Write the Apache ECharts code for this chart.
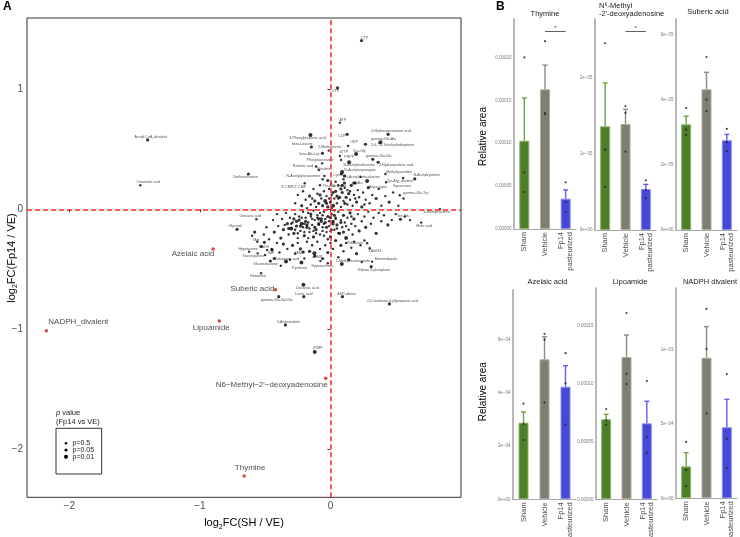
<!DOCTYPE html>
<html><head><meta charset="utf-8">
<script src="https://cdn.jsdelivr.net/npm/echarts@6/dist/echarts.min.js"></script>
<style>html,body{margin:0;padding:0;background:#fff}#c{width:740px;height:537px}</style>
</head><body><div id="c"></div><script>
// ---------- Panel A data: [name, log2FC(SH/VE), log2FC(Fp14/VE)] ----------
const highlighted = [
  ['NADPH_divalent', -2.176, -1.012],
  ['Azelaic acid', -0.899, -0.331],
  ['Suberic acid', -0.421, -0.670],
  ['Lipoamide', -0.851, -0.931],
  ['N6\u2212Methyl\u22122\'\u2212deoxyadenosine', -0.036, -1.408],
  ['Thymine', -0.661, -2.222]
];
// [name, x, y, p-class] p-class: 1 = p 0.5, 2 = p 0.05, 3 = p 0.01
const labeledPoints = [
  ['CTP',0.238,1.406,2],['UTP',0.054,1.011,2],['ATP',0.072,0.722,1],['CDP',0.128,0.625,2],
  ['Acetyl CoA_divalent',-1.400,0.578,2],['Citramalic acid',-1.456,0.200,1],['Diethanolamine',-0.628,0.294,2],
  ['5-Hydroxypentanoic acid',0.442,0.625,2],['gamma-Glu-Ala',0.383,0.558,3],['5,6,7,8-Tetrahydrobiopterin',0.268,0.542,2],
  ['3-Phenylpropionic acid',-0.153,0.619,3],['beta-Leucine',-0.146,0.519,2],['2-Methylserine',-0.013,0.489,1],
  ['UDP',0.135,0.528,1],['Cys-Gly',0.197,0.461,3],['dTTP',0.072,0.444,1],['PRPP',0.082,0.411,1],
  ['beta-Ala-Lys',-0.061,0.467,2],['gamma-Glu-Glu',0.324,0.417,2],['Phosphocreatine',-0.064,0.383,1],
  ['N-Acetylmethionine',0.143,0.392,3],['2-Hydroxyvaleric acid',0.365,0.392,2],['Retinoic acid',-0.110,0.356,1],
  ['Nicotine',-0.089,0.328,1],['N-Acetylasparagine',0.089,0.310,3],['Methylguanidine',0.421,0.294,1],
  ['N-Acetylcysteine',0.646,0.253,2],['Tyr-Arg_divalent',0.557,0.261,1],['N-Acetylglucosamine',-0.046,0.278,1],
  ['Cys',0.084,0.294,2],['N-Acetyl-beta-alanine',0.107,0.278,2],['Ala',0.179,0.219,2],['Asparagine',0.281,0.236,3],
  ['Kynurenine',0.427,0.225,1],['Thr-Asp',0.005,0.211,1],['Guanine',0.107,0.219,2],['3\'-CMP/2\'-CMP',-0.197,0.217,1],
  ['gamma-Glu-Trp',0.531,0.117,1],['S-Methylcysteine',0.838,0.000,1],['Ser-Glu',0.536,-0.083,2],['Malic acid',0.695,-0.111,1],
  ['Urocanic acid',-0.567,-0.083,1],['Glycerol',-0.715,-0.167,2],['Met',-0.506,-0.275,2],['NADH',-0.485,-0.339,1],
  ['Hypotaurine',-0.623,-0.353,1],['Taurocyamine',-0.557,-0.367,1],['IMP',-0.447,-0.339,2],['Pelargonic acid',-0.340,-0.436,3],
  ['Gluconolactone',-0.460,-0.431,2],['dAMP',-0.209,-0.356,2],['dGMP',-0.123,-0.367,3],['Pyridoxal',-0.222,-0.444,3],
  ['Hypoxanthine',-0.077,-0.431,1],['Histamine',-0.531,-0.533,1],['Riboflavin',0.281,-0.283,1],['XA0033',0.301,-0.325,1],
  ['1-Methylnicotinamide',0.087,-0.456,3],['Metronidazole',0.319,-0.436,1],['Ribose 5-phosphate',0.312,-0.478,2],
  ['Decanoic acid',-0.207,-0.628,3],['Lauric acid',-0.204,-0.728,2],['gamma-Glu-Val-Glu',-0.396,-0.728,2],
  ['ADP-ribose',0.092,-0.728,2],['2-(Creatinine-3-yl)propionic acid',0.452,-0.789,2],['5-Aminoindole',-0.345,-0.964,2],
  ['dTMP',-0.120,-1.190,3]
];
// unlabeled metabolites [x, y, p-class]
const cloudPoints = [
[-0.27,0.05,1],[-0.25,0.12,1],[-0.22,0.03,2],[-0.21,0.15,1],[-0.19,0.08,1],[-0.18,0.01,1],[-0.16,0.11,2],[-0.15,0.04,1],[-0.13,0.17,1],[-0.12,0.07,2],[-0.11,0.02,1],[-0.1,0.13,1],[-0.09,0.05,2],[-0.08,0.2,1],[-0.07,0.09,1],[-0.06,0.03,2],[-0.05,0.15,1],[-0.04,0.07,3],[-0.03,0.11,1],[-0.02,0.02,2],[-0.01,0.17,1],[0.0,0.06,2],[0.01,0.12,1],[0.02,0.03,3],[0.03,0.09,1],[0.04,0.15,2],[0.05,0.05,1],[0.06,0.2,1],[0.07,0.1,2],[0.08,0.02,1],[0.09,0.14,2],[0.1,0.07,1],[0.11,0.18,1],[0.12,0.1,2],[0.13,0.04,1],[0.14,0.13,2],[0.15,0.08,1],[0.16,0.2,2],[0.17,0.03,1],[0.18,0.12,1],[0.2,0.06,2],[0.21,0.16,1],[0.22,0.1,1],[0.24,0.02,2],[0.25,0.14,1],[0.27,0.08,1],[0.29,0.18,2],[0.3,0.05,1],[0.32,0.12,1],[0.35,0.09,2],[0.37,0.17,1],[0.39,0.03,1],[0.42,0.11,1],[0.45,0.06,2],[0.48,0.14,1],[0.52,0.03,1],[0.56,0.09,1],[-0.02,0.24,2],[0.04,0.23,1],[0.1,0.25,1],[0.19,0.22,2],[0.23,0.27,1],[-0.06,0.25,1],[0.01,0.01,1],[0.05,0.11,2],[0.13,0.16,1],[-0.14,0.09,1],[0.08,0.17,2],[0.26,0.04,1],[-0.03,0.05,2],
[0.02,0.14,2],[0.06,0.09,1],[0.11,0.05,2],[-0.01,0.09,1],[0.15,0.15,1],[0.09,0.2,2],[0.19,0.09,1],[-0.08,0.12,2],
[-0.44,-0.09,1],[-0.43,-0.19,2],[-0.41,-0.04,1],[-0.4,-0.14,1],[-0.38,-0.24,2],[-0.37,-0.08,1],[-0.36,-0.17,2],[-0.34,-0.03,1],[-0.33,-0.12,2],[-0.32,-0.21,1],[-0.31,-0.07,1],[-0.3,-0.16,3],[-0.29,-0.11,1],[-0.28,-0.2,2],[-0.27,-0.04,1],[-0.26,-0.14,2],[-0.25,-0.24,1],[-0.24,-0.09,2],[-0.23,-0.18,1],[-0.22,-0.12,3],[-0.21,-0.02,1],[-0.2,-0.22,2],[-0.19,-0.07,1],[-0.18,-0.15,2],[-0.17,-0.11,1],[-0.16,-0.19,1],[-0.15,-0.04,2],[-0.14,-0.13,1],[-0.13,-0.23,2],[-0.12,-0.09,1],[-0.11,-0.17,2],[-0.1,-0.05,1],[-0.09,-0.12,2],[-0.08,-0.21,1],[-0.07,-0.08,2],[-0.06,-0.15,1],[-0.05,-0.02,1],[-0.04,-0.11,2],[-0.03,-0.19,1],[-0.02,-0.06,2],[-0.01,-0.14,1],[0.0,-0.23,2],[0.01,-0.04,1],[0.02,-0.1,2],[0.03,-0.17,1],[0.04,-0.07,1],[0.05,-0.13,2],[0.06,-0.02,1],[0.07,-0.2,2],[0.08,-0.09,1],[0.09,-0.15,1],[0.1,-0.05,2],[0.11,-0.11,1],[0.12,-0.24,3],[0.13,-0.07,1],[0.14,-0.17,1],[0.15,-0.03,2],[0.16,-0.12,1],[0.17,-0.21,1],[0.18,-0.08,2],[0.19,-0.14,1],[0.21,-0.04,1],[0.22,-0.18,2],[0.24,-0.1,1],[0.26,-0.06,1],[0.27,-0.15,2],[0.29,-0.02,1],[0.31,-0.12,1],[0.33,-0.07,1],[0.35,-0.2,2],[0.37,-0.03,1],[0.39,-0.1,1],[0.41,-0.05,1],[0.44,-0.13,2],[0.47,-0.09,1],[0.5,-0.04,1],[0.57,-0.06,1],[0.61,-0.09,1],
[-0.3,-0.12,1],[-0.26,-0.1,2],[-0.24,-0.06,1],[-0.21,-0.15,1],[-0.19,-0.1,2],[-0.16,-0.16,1],[-0.14,-0.08,1],[-0.12,-0.15,2],[-0.11,-0.2,1],[-0.09,-0.13,1],[-0.07,-0.1,2],[-0.06,-0.18,1],[-0.04,-0.08,1],[-0.03,-0.15,2],[-0.01,-0.1,1],[0.01,-0.17,1],[0.02,-0.12,2],[0.04,-0.08,1],[0.06,-0.2,1],[0.08,-0.11,2],[-0.2,-0.19,1],[-0.23,-0.14,2],[-0.15,-0.06,1],[-0.05,-0.22,1],[0.0,-0.07,2],[-0.08,-0.03,1],[-0.13,-0.01,1],[0.03,-0.01,1],[-0.18,-0.13,2],[-0.1,-0.07,1],[-0.27,-0.17,1],[-0.35,-0.13,1],[-0.02,-0.25,1],[0.1,-0.19,2],[-0.17,-0.24,1],
[-0.28,-0.08,2],[-0.22,-0.07,1],[-0.17,-0.03,1],[-0.13,-0.18,1],[-0.09,-0.08,2],[-0.05,-0.12,1],[0.0,-0.18,1],[0.03,-0.05,2],[0.05,-0.16,1],[-0.2,-0.12,1],[-0.25,-0.2,1],[-0.32,-0.16,2],[0.12,-0.14,1],[0.16,-0.06,1],[-0.06,-0.05,1],
[-0.56,-0.27,1],[-0.53,-0.31,2],[-0.5,-0.38,1],[-0.47,-0.25,1],[-0.45,-0.33,1],[-0.43,-0.41,2],[-0.41,-0.28,1],[-0.39,-0.36,1],[-0.36,-0.29,2],[-0.33,-0.33,1],[-0.31,-0.42,1],[-0.29,-0.3,2],[-0.27,-0.37,1],[-0.25,-0.28,1],[-0.23,-0.33,2],[-0.2,-0.41,1],[-0.18,-0.27,1],[-0.16,-0.35,2],[-0.14,-0.3,1],[-0.12,-0.39,2],[-0.1,-0.27,1],[-0.08,-0.33,1],[-0.06,-0.41,2],[-0.04,-0.3,1],[-0.02,-0.36,2],[0.0,-0.28,1],[0.02,-0.33,1],[0.04,-0.26,2],[0.06,-0.4,1],[0.08,-0.3,2],[0.1,-0.35,1],[0.12,-0.28,1],[0.14,-0.42,2],[0.16,-0.32,1],[0.18,-0.27,1],[0.2,-0.37,2],[0.23,-0.3,1],[0.26,-0.26,1],[-0.6,-0.22,1],[-0.58,-0.19,2],[-0.49,-0.15,1],[-0.51,-0.21,1],[-0.02,-0.45,1],[0.24,-0.44,1],[-0.38,-0.47,1]
];
const xTicksA = [-2, -1, 0];
const yTicksA = [-2, -1, 0, 1];

// ---------- Panel B data ----------
const groups = ['Sham', 'Vehicle', 'Fp14\npasteurized'];
const thymineMean = [1.03e-4, 1.628e-4, 3.54e-5];
const thymineUpper = [1.527e-4, 1.911e-4, 4.55e-5];
const thyminePts = [[2.0e-4, 6.6e-5, 4.3e-5], [2.19e-4, 1.352e-4, 1.34e-4], [5.44e-5, 3.15e-5, 1.95e-5]];
const thymineTicks = [0, 5e-5, 1e-4, 1.5e-4, 2e-4];
const thymineTickLabels = ['0.00000', '0.00005', '0.00010', '0.00015', '0.00020'];

const n6Mean = [1.364e-5, 1.395e-5, 5.39e-6];
const n6Upper = [1.934e-5, 1.588e-5, 6.0e-6];
const n6Pts = [[2.457e-5, 1.057e-5, 5.66e-6], [1.63e-5, 1.54e-5, 1.03e-5], [6.54e-6, 5.26e-6, 4.17e-6]];
const n6Ticks = [0, 1e-5, 2e-5];
const n6TickLabels = ['0e+00', '1e\u221205', '2e\u221205'];

const subericMean = [3.25e-5, 4.33e-5, 2.76e-5];
const subericUpper = [3.50e-5, 4.85e-5, 2.94e-5];
const subericPts = [[3.75e-5, 3.09e-5, 2.92e-5], [5.32e-5, 4.01e-5, 3.66e-5], [3.11e-5, 2.71e-5, 2.43e-5]];
const subericTicks = [0, 2e-5, 4e-5, 6e-5];
const subericTickLabels = ['0e+00', '2e\u221205', '4e\u221205', '6e\u221205'];

const azelaicMean = [2.885e-4, 5.27e-4, 4.24e-4];
const azelaicUpper = [3.29e-4, 6.12e-4, 5.03e-4];
const azelaicPts = [[3.60e-4, 2.84e-4, 2.23e-4], [6.23e-4, 6.01e-4, 3.64e-4], [5.50e-4, 4.37e-4, 2.81e-4]];
const azelaicTicks = [0, 2e-4, 4e-4, 6e-4];
const azelaicTickLabels = ['0e+00', '2e\u221204', '4e\u221204', '6e\u221204'];

const lipoMean = [6.92e-5, 1.231e-4, 6.57e-5];
const lipoUpper = [7.35e-5, 1.421e-4, 8.48e-5];
const lipoPts = [[7.81e-5, 6.83e-5, 6.45e-5], [1.611e-4, 1.086e-4, 9.97e-5], [1.023e-4, 5.39e-5, 4.03e-5]];
const lipoTicks = [0, 5e-5, 1e-4, 1.5e-4];
const lipoTickLabels = ['0.00000', '0.00005', '0.00010', '0.00015'];

const nadphMean = [2.15e-4, 9.46e-4, 4.78e-4];
const nadphUpper = [3.07e-4, 1.155e-3, 6.66e-4];
const nadphPts = [[3.79e-4, 1.90e-4, 8.1e-5], [1.274e-3, 1.005e-3, 5.72e-4], [8.36e-4, 4.01e-4, 2.02e-4]];
const nadphTicks = [0, 5e-4, 1e-3];
const nadphTickLabels = ['0e+00', '5e\u221204', '1e\u221203'];

const thymineSig = 2.304e-4;
const n6Sig = 2.614e-5;

// ---------- styles / layout ----------
const FONT = '"Liberation Sans", Arial, Helvetica, sans-serif';
const sizeMap = {1: 2.4, 2: 3.2, 3: 4.0};
const barColors = ['#4e7e2a', '#807e6f', '#4747d5'];
const barBorders = ['#8fb46c', '#aeada1', '#8c8cec'];
const errColors = ['#6f9e44', '#8e8d80', '#5d5df0'];
const labelNudge = {
  'CTP':[3,-3],'UTP':[-2,3],'ATP':[3,-3],'CDP':[-5,2],'Acetyl CoA_divalent':[3,-3],'Citramalic acid':[8,-3],
  'Diethanolamine':[-3,3],'5-Hydroxypentanoic acid':[3,-3],'gamma-Glu-Ala':[3,-3],'5,6,7,8-Tetrahydrobiopterin':[27,1],
  '3-Phenylpropionic acid':[-3,3],'beta-Leucine':[-9,-3],'2-Methylserine':[1,-4],'UDP':[6,-4],'Cys-Gly':[3,-3],
  'dTTP':[4,-4],'PRPP':[8,-3],'beta-Ala-Lys':[-13,1],'gamma-Glu-Glu':[6,-3],'Phosphocreatine':[-2,-3],
  'N-Acetylmethionine':[10,3],'2-Hydroxyvaleric acid':[18,3],'Retinoic acid':[-13,-1],'Nicotine':[5,-1],
  'N-Acetylasparagine':[18,-2],'Methylguanidine':[14,-2],'N-Acetylcysteine':[12,-4],'Tyr-Arg_divalent':[-3,3],
  'N-Acetylglucosamine':[-21,0],'Cys':[-5,1],'N-Acetyl-beta-alanine':[18,1],'Ala':[6,0],'Asparagine':[11,6],
  'Kynurenine':[16,4],'Thr-Asp':[-2,2],'Guanine':[-5,3],'3\'-CMP/2\'-CMP':[-11,4],'gamma-Glu-Trp':[16,-2],
  'S-Methylcysteine':[-3,3],'Ser-Glu':[3,-3],'Malic acid':[3,3],'Urocanic acid':[-6,-3],'Glycerol':[-2,-3],
  'Met':[-8,-2],'NADH':[-3,-3],'Hypotaurine':[-1,-3],'Taurocyamine':[-4,3],'IMP':[-1,3],'Pelargonic acid':[1,-3],
  'Gluconolactone':[-5,3],'dAMP':[-4,1],'dGMP':[3,4],'Pyridoxal':[-2,5],'Hypoxanthine':[2,5],'Histamine':[-3,3],
  'Riboflavin':[-12,0],'XA0033':[5,3],'1-Methylnicotinamide':[11,-3],'Metronidazole':[14,-3],'Ribose 5-phosphate':[3,3],
  'Decanoic acid':[4,3],'Lauric acid':[0,-3],'gamma-Glu-Val-Glu':[-2,3],'ADP-ribose':[4,-3],
  '2-(Creatinine-3-yl)propionic acid':[3,-3],'5-Aminoindole':[3,-3],'dTMP':[3,-4]
};
const redNudge = [[32,-9],[-20,5],[-23,-1],[-8,7],[-54,7],[6,-8]];

const panels = [
  {title:'Thymine', mean:thymineMean, upper:thymineUpper, pts:thyminePts, ticks:thymineTicks, labels:thymineTickLabels, max:2.448e-4, sig:thymineSig,
   grid:{left:514, top:19, width:62, height:210}, tx:545, ty:13.5},
  {title:'N\u2076-Methyl\n-2\'-deoxyadenosine', mean:n6Mean, upper:n6Upper, pts:n6Pts, ticks:n6Ticks, labels:n6TickLabels, max:2.776e-5, sig:n6Sig,
   grid:{left:595, top:19, width:61, height:211}, tx:599, ty:10.2, alignLeft:true},
  {title:'Suberic acid', mean:subericMean, upper:subericUpper, pts:subericPts, ticks:subericTicks, labels:subericTickLabels, max:6.49e-5,
   grid:{left:676, top:19, width:61, height:211}, tx:708, ty:12},
  {title:'Azelaic acid', mean:azelaicMean, upper:azelaicUpper, pts:azelaicPts, ticks:azelaicTicks, labels:azelaicTickLabels, max:7.88e-4,
   grid:{left:513, top:290, width:63, height:209.3}, tx:547.5, ty:281.7},
  {title:'Lipoamide', mean:lipoMean, upper:lipoUpper, pts:lipoPts, ticks:lipoTicks, labels:lipoTickLabels, max:1.828e-4,
   grid:{left:596, top:288, width:61, height:211.3}, tx:630, ty:281.7},
  {title:'NADPH divalent', mean:nadphMean, upper:nadphUpper, pts:nadphPts, ticks:nadphTicks, labels:nadphTickLabels, max:1.415e-3,
   grid:{left:676, top:288, width:61, height:210.3}, tx:710, ty:281.7}
];

const minusFmt = v => (v < 0 ? '\u2212' + Math.abs(v) : String(v));
const titleRich = {a:{fontSize:11, fill:'#000', color:'#000', fontFamily:FONT, lineHeight:14}, s:{fontSize:7, fill:'#000', color:'#000', fontFamily:FONT, lineHeight:14, padding:[7,0,0,0]}};

const grids = [{left:27, top:18, width:434, height:479.3, show:true, borderColor:'#333', borderWidth:1, containLabel:false, outerBoundsMode:'none'}];
const xAxes = [{
  gridIndex:0, type:'value', min:-2.324, max:1.0,
  axisLine:{show:false}, splitLine:{show:false},
  axisTick:{show:true, length:3, lineStyle:{color:'#333'}, customValues:xTicksA},
  axisLabel:{customValues:xTicksA, formatter:minusFmt, fontSize:10, color:'#4d4d4d', margin:4, fontFamily:FONT},
  name:'{a|log}{s|2}{a|FC(SH / VE)}', nameLocation:'middle', nameGap:12,
  nameTextStyle:{fontFamily:FONT, rich:titleRich}
}];
const yAxes = [{
  gridIndex:0, type:'value', min:-2.40, max:1.594,
  axisLine:{show:false}, splitLine:{show:false},
  axisTick:{show:true, length:3, lineStyle:{color:'#333'}, customValues:yTicksA},
  axisLabel:{customValues:yTicksA, formatter:minusFmt, fontSize:10, color:'#4d4d4d', margin:4, fontFamily:FONT}
}];

const series = [
  {type:'scatter', xAxisIndex:0, yAxisIndex:0, z:2, silent:true,
   data:cloudPoints.map(p => [p[0], p[1], p[2]]),
   symbolSize:v => sizeMap[v[2]], itemStyle:{color:'#000'}},
  {type:'scatter', xAxisIndex:0, yAxisIndex:0, z:3, silent:true,
   data:labeledPoints.map(p => ({name:p[0], value:[p[1], p[2], p[3]], label:{offset:labelNudge[p[0]] || [0, -3]}})),
   symbolSize:v => sizeMap[v[2]], itemStyle:{color:'#000'},
   label:{show:true, position:'inside', formatter:'{b}', fontSize:3.6, color:'#222', fontFamily:FONT}},
  {type:'scatter', xAxisIndex:0, yAxisIndex:0, z:5, silent:true,
   data:highlighted.map((p, i) => ({name:p[0], value:[p[1], p[2]], label:{offset:redNudge[i]}})),
   symbolSize:3.6, itemStyle:{color:'#c4221f'},
   label:{show:true, position:'inside', formatter:'{b}', fontSize:8, color:'#1a1a1a', fontFamily:FONT},
   markLine:{silent:true, symbol:['none', 'none'], animation:false, label:{show:false},
     lineStyle:{color:'#ff1f1f', type:[5, 3], width:1.5, opacity:1},
     data:[{xAxis:0}, {yAxis:0}]}}
];

const graphics = [
  {type:'text', x:3, y:1, style:{text:'A', font:'bold 12px ' + FONT, fill:'#000'}},
  {type:'text', x:496, y:1, style:{text:'B', font:'bold 12px ' + FONT, fill:'#000'}},
  {type:'text', x:12, y:258, rotation:Math.PI / 2,
   style:{text:'{a|log}{s|2}{a|FC(Fp14 / VE)}', rich:titleRich, fontFamily:FONT, fill:'#000', align:'center', verticalAlign:'middle'}},
  {type:'text', x:56, y:408, style:{text:'{i|p} value\n(Fp14 vs VE)', fontSize:7.5, lineHeight:9, fontFamily:FONT, fill:'#1a1a1a',
     rich:{i:{fontStyle:'italic', fontSize:7.5, fontFamily:FONT, lineHeight:9}}}},
  {type:'rect', shape:{x:56, y:428.3, width:45.7, height:45.7}, style:{fill:'none', stroke:'#333', lineWidth:1}},
  {type:'circle', shape:{cx:66, cy:443.3, r:sizeMap[1] / 2}, style:{fill:'#000'}},
  {type:'circle', shape:{cx:66, cy:450, r:sizeMap[2] / 2}, style:{fill:'#000'}},
  {type:'circle', shape:{cx:66, cy:456.7, r:sizeMap[3] / 2}, style:{fill:'#000'}},
  {type:'text', x:72.5, y:443.3, style:{text:'p=0.5', fontSize:7, fontFamily:FONT, fill:'#1a1a1a', verticalAlign:'middle'}},
  {type:'text', x:72.5, y:450, style:{text:'p=0.05', fontSize:7, fontFamily:FONT, fill:'#1a1a1a', verticalAlign:'middle'}},
  {type:'text', x:72.5, y:456.7, style:{text:'p=0.01', fontSize:7, fontFamily:FONT, fill:'#1a1a1a', verticalAlign:'middle'}},
  {type:'text', x:483, y:136.5, rotation:Math.PI / 2, style:{text:'Relative area', fontSize:10, fontFamily:FONT, fill:'#000', align:'center', verticalAlign:'middle'}},
  {type:'text', x:483, y:391.7, rotation:Math.PI / 2, style:{text:'Relative area', fontSize:10, fontFamily:FONT, fill:'#000', align:'center', verticalAlign:'middle'}}
];

panels.forEach((p, k) => {
  const gi = k + 1;
  grids.push(Object.assign({containLabel:false, outerBoundsMode:'none'}, p.grid));
  xAxes.push({gridIndex:gi, type:'category', data:groups,
    axisTick:{show:false}, axisLine:{show:true, lineStyle:{color:'#a8a8a8', width:1.2}},
    axisLabel:{rotate:90, interval:0, fontSize:7.5, lineHeight:8.5, color:'#4d4d4d', margin:3, fontFamily:FONT}});
  yAxes.push({gridIndex:gi, type:'value', min:0, max:p.max, splitLine:{show:false},
    axisLine:{show:true, lineStyle:{color:'#b8b8b8', width:2}}, axisTick:{show:false},
    axisLabel:{customValues:p.ticks, fontSize:4.5, color:'#7a7a7a', margin:2.5, fontFamily:FONT,
      formatter:v => { const i = p.ticks.findIndex(t => Math.abs(t - v) <= Math.abs(p.max) * 1e-6); return i >= 0 ? p.labels[i] : ''; }}});
  series.push({type:'bar', xAxisIndex:gi, yAxisIndex:gi, barWidth:10, z:2, silent:true,
    data:p.mean.map((v, j) => ({value:v, itemStyle:{color:barColors[j], borderColor:barBorders[j], borderWidth:1}}))});
  series.push({type:'custom', xAxisIndex:gi, yAxisIndex:gi, z:3, silent:true,
    data:p.mean.map((v, j) => [j, v, p.upper[j]]),
    renderItem:(params, api) => {
      const j = api.value(0);
      const a = api.coord([j, api.value(1)]);
      const b = api.coord([j, api.value(2)]);
      const c = errColors[j];
      return {type:'group', children:[
        {type:'line', shape:{x1:a[0], y1:a[1], x2:b[0], y2:b[1]}, style:{stroke:c, lineWidth:1.4}},
        {type:'line', shape:{x1:b[0] - 2.5, y1:b[1], x2:b[0] + 2.5, y2:b[1]}, style:{stroke:c, lineWidth:1.4}}
      ]};
    }});
  const ptData = [];
  p.pts.forEach((arr, j) => arr.forEach(v => ptData.push([j, v])));
  const sc = {type:'scatter', xAxisIndex:gi, yAxisIndex:gi, z:4, silent:true, symbolSize:2.2,
    itemStyle:{color:'#1e1e1e'}, data:ptData};
  if (p.sig !== undefined) {
    sc.markLine = {silent:true, symbol:['none', 'none'], animation:false,
      lineStyle:{color:'#333', width:0.8, type:'solid'},
      label:{show:true, formatter:'*', position:'insideMiddleTop', distance:0, fontSize:6, color:'#333'},
      data:[[{coord:[1, p.sig]}, {coord:[2, p.sig]}]]};
  }
  series.push(sc);
  graphics.push({type:'text', x:p.tx, y:p.ty, style:{text:p.title, fontSize:7.5, lineHeight:8, fontFamily:FONT, fill:'#1a1a1a',
    align:p.alignLeft ? 'left' : 'center', verticalAlign:'middle'}});
});

const chart = echarts.init(document.getElementById('c'), null, {renderer:'canvas'});
chart.setOption({
  animation:false,
  backgroundColor:'#fff',
  textStyle:{fontFamily:FONT},
  grid:grids, xAxis:xAxes, yAxis:yAxes, series:series, graphic:graphics
});
</script></body></html>
